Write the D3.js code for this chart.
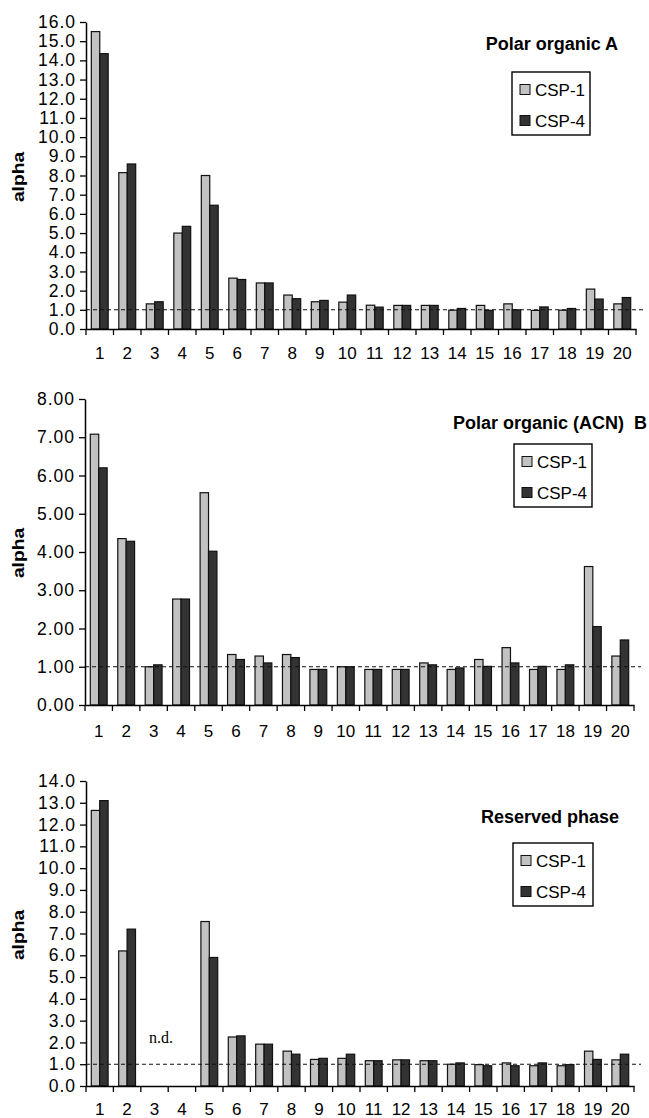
<!DOCTYPE html>
<html>
<head>
<meta charset="utf-8">
<script src="https://cdn.jsdelivr.net/npm/d3@7/dist/d3.min.js"></script>
<style>
  html, body { margin: 0; padding: 0; background: #fff; }
  svg { display: block; }
  text { font-family: "Liberation Sans", Arial, sans-serif; fill: #000; }
</style>
</head>
<body>
<svg id="chart" width="649" height="1118"></svg>
<script>
// ---------- DATA ----------
const categories = ["1","2","3","4","5","6","7","8","9","10","11","12","13","14","15","16","17","18","19","20"];
const seriesNames = ["CSP-1", "CSP-4"];

// Panel A: Polar organic
const polarA_csp1 = [15.5, 8.15, 1.31, 5.0, 8.0, 2.65, 2.4, 1.77, 1.42, 1.4, 1.24, 1.23, 1.23, 0.98, 1.23, 1.31, 0.97, 0.98, 2.08, 1.31];
const polarA_csp4 = [14.35, 8.6, 1.42, 5.35, 6.45, 2.58, 2.4, 1.58, 1.49, 1.77, 1.14, 1.23, 1.23, 1.07, 0.97, 1.0, 1.15, 1.07, 1.56, 1.64];
const polarA_ticks = [0,1,2,3,4,5,6,7,8,9,10,11,12,13,14,15,16];

// Panel B: Polar organic (ACN)
const polarB_csp1 = [7.08, 4.35, 1.0, 2.77, 5.55, 1.32, 1.28, 1.32, 0.93, 1.0, 0.93, 0.93, 1.1, 0.93, 1.19, 1.5, 0.93, 0.93, 3.62, 1.28];
const polarB_csp4 = [6.2, 4.28, 1.05, 2.77, 4.02, 1.19, 1.1, 1.24, 0.93, 1.0, 0.93, 0.93, 1.05, 0.97, 1.01, 1.1, 1.01, 1.05, 2.05, 1.7];
const polarB_ticks = [0,1,2,3,4,5,6,7,8];

// Panel C: Reserved phase (3 and 4 not determined)
const rp_csp1 = [12.65, 6.2, null, null, 7.55, 2.25, 1.92, 1.6, 1.22, 1.27, 1.16, 1.2, 1.16, 1.0, 0.98, 1.06, 0.93, 0.93, 1.6, 1.2];
const rp_csp4 = [13.1, 7.2, null, null, 5.9, 2.3, 1.92, 1.46, 1.27, 1.46, 1.16, 1.2, 1.16, 1.06, 0.93, 0.93, 1.06, 0.98, 1.22, 1.46];
const rp_ticks = [0,1,2,3,4,5,6,7,8,9,10,11,12,13,14];

const referenceAlpha = 1.0;
const yAxisLabel = "alpha";
const notDetermined = "n.d.";

// ---------- STYLE / LAYOUT ----------
const colors = { "CSP-1": "#c2c2c2", "CSP-4": "#333333" };

const panels = [
  { c1: polarA_csp1, c4: polarA_csp4, ticks: polarA_ticks, fmt: ".1f",
    left: 86, right: 636, top: 22, bottom: 329, xLab: 359,
    title: "Polar organic A", titleX: 618, titleY: 50,
    legend: { x: 512, y: 72, w: 78, h: 63 }, alphaY: 177 },
  { c1: polarB_csp1, c4: polarB_csp4, ticks: polarB_ticks, fmt: ".2f",
    left: 85, right: 634, top: 399, bottom: 705, xLab: 737,
    title: "Polar organic (ACN)\u00a0\u00a0B", titleX: 647, titleY: 429,
    legend: { x: 514, y: 444, w: 78, h: 63 }, alphaY: 553 },
  { c1: rp_csp1, c4: rp_csp4, ticks: rp_ticks, fmt: ".1f",
    left: 86, right: 634, top: 781, bottom: 1086, xLab: 1115,
    title: "Reserved phase", titleX: 619, titleY: 823,
    legend: { x: 513, y: 843, w: 80, h: 63 }, alphaY: 935,
    nd: { x: 161, y: 1043 } }
];

const svg = d3.select("#chart");

panels.forEach(p => {
  const g = svg.append("g");
  const maxV = p.ticks[p.ticks.length - 1];

  const x0 = d3.scaleBand().domain(categories).range([p.left, p.right]).padding(0);
  const x1 = d3.scaleBand().domain(seriesNames).range([0, x0.bandwidth()])
               .paddingInner(0).paddingOuter(0.63);
  const y = d3.scaleLinear().domain([0, maxV]).range([p.bottom, p.top]);

  const rows = categories.map((c, i) => ({ cat: c, vals: [
    { s: "CSP-1", v: p.c1[i] }, { s: "CSP-4", v: p.c4[i] }
  ]}));

  // bars
  const grp = g.selectAll("g.grp").data(rows).join("g")
    .attr("transform", d => `translate(${x0(d.cat)},0)`);
  grp.selectAll("rect").data(d => d.vals.filter(v => v.v != null)).join("rect")
    .attr("x", d => x1(d.s))
    .attr("width", x1.bandwidth())
    .attr("y", d => y(d.v))
    .attr("height", d => y(0) - y(d.v))
    .attr("fill", d => colors[d.s])
    .attr("stroke", "#111")
    .attr("stroke-width", 1.2);

  // dashed reference line at alpha = 1
  g.append("line")
    .attr("x1", p.left).attr("x2", p.right + 7)
    .attr("y1", y(referenceAlpha)).attr("y2", y(referenceAlpha))
    .attr("stroke", "#111").attr("stroke-width", 1.1)
    .attr("stroke-dasharray", "4,3");

  // y axis
  const yAxis = d3.axisLeft(y).tickValues(p.ticks).tickFormat(d3.format(p.fmt))
    .tickSize(6).tickSizeOuter(0).tickPadding(4);
  const ya = g.append("g").attr("transform", `translate(${p.left},0)`).call(yAxis);
  ya.select(".domain").attr("stroke", "#000").attr("stroke-width", 1.5);
  ya.selectAll(".tick line").attr("stroke", "#000").attr("stroke-width", 1.3);
  ya.selectAll("text").attr("font-size", 17.5).style("letter-spacing", "1px")
    .attr("fill", "#111");

  // x axis
  const xAxis = d3.axisBottom(x0).tickSize(0).tickSizeOuter(0).tickPadding(0);
  const xa = g.append("g").attr("transform", `translate(0,${p.bottom})`).call(xAxis);
  xa.select(".domain").attr("stroke", "#000").attr("stroke-width", 1.5);
  xa.selectAll("text").attr("font-size", 17).attr("fill", "#111")
    .attr("dy", null).attr("y", p.xLab - p.bottom);
  // category boundary ticks
  const bounds = categories.map(c => x0(c)).concat([x0(categories[categories.length - 1]) + x0.step()]);
  g.selectAll("line.bt").data(bounds).join("line")
    .attr("x1", d => d).attr("x2", d => d)
    .attr("y1", p.bottom).attr("y2", p.bottom + 6)
    .attr("stroke", "#000").attr("stroke-width", 1.3);

  // y label
  g.append("text")
    .attr("transform", `translate(24,${p.alphaY}) rotate(-90) scale(1.2,1)`)
    .attr("text-anchor", "middle")
    .attr("font-size", 16).attr("font-weight", "bold")
    .text(yAxisLabel);

  // title
  g.append("text")
    .attr("x", p.titleX).attr("y", p.titleY)
    .attr("text-anchor", "end")
    .attr("font-size", 18).attr("font-weight", "bold")
    .text(p.title);

  // legend
  const L = p.legend;
  g.append("rect").attr("x", L.x).attr("y", L.y).attr("width", L.w).attr("height", L.h)
    .attr("fill", "#fff").attr("stroke", "#000").attr("stroke-width", 1.4);
  seriesNames.forEach((s, i) => {
    const sy = L.y + 12.5 + i * 31;
    g.append("rect").attr("x", L.x + 8).attr("y", sy).attr("width", 10).attr("height", 10)
      .attr("fill", colors[s]).attr("stroke", "#111").attr("stroke-width", 1);
    g.append("text").attr("x", L.x + 23).attr("y", sy + 11)
      .attr("font-size", 17).attr("fill", "#111").text(s);
  });

  if (p.nd) {
    g.append("text").attr("x", p.nd.x).attr("y", p.nd.y)
      .attr("text-anchor", "middle")
      .style("font-family", '"Liberation Serif", "Times New Roman", serif')
      .attr("font-size", 16).text(notDetermined);
  }
});
</script>
</body>
</html>
